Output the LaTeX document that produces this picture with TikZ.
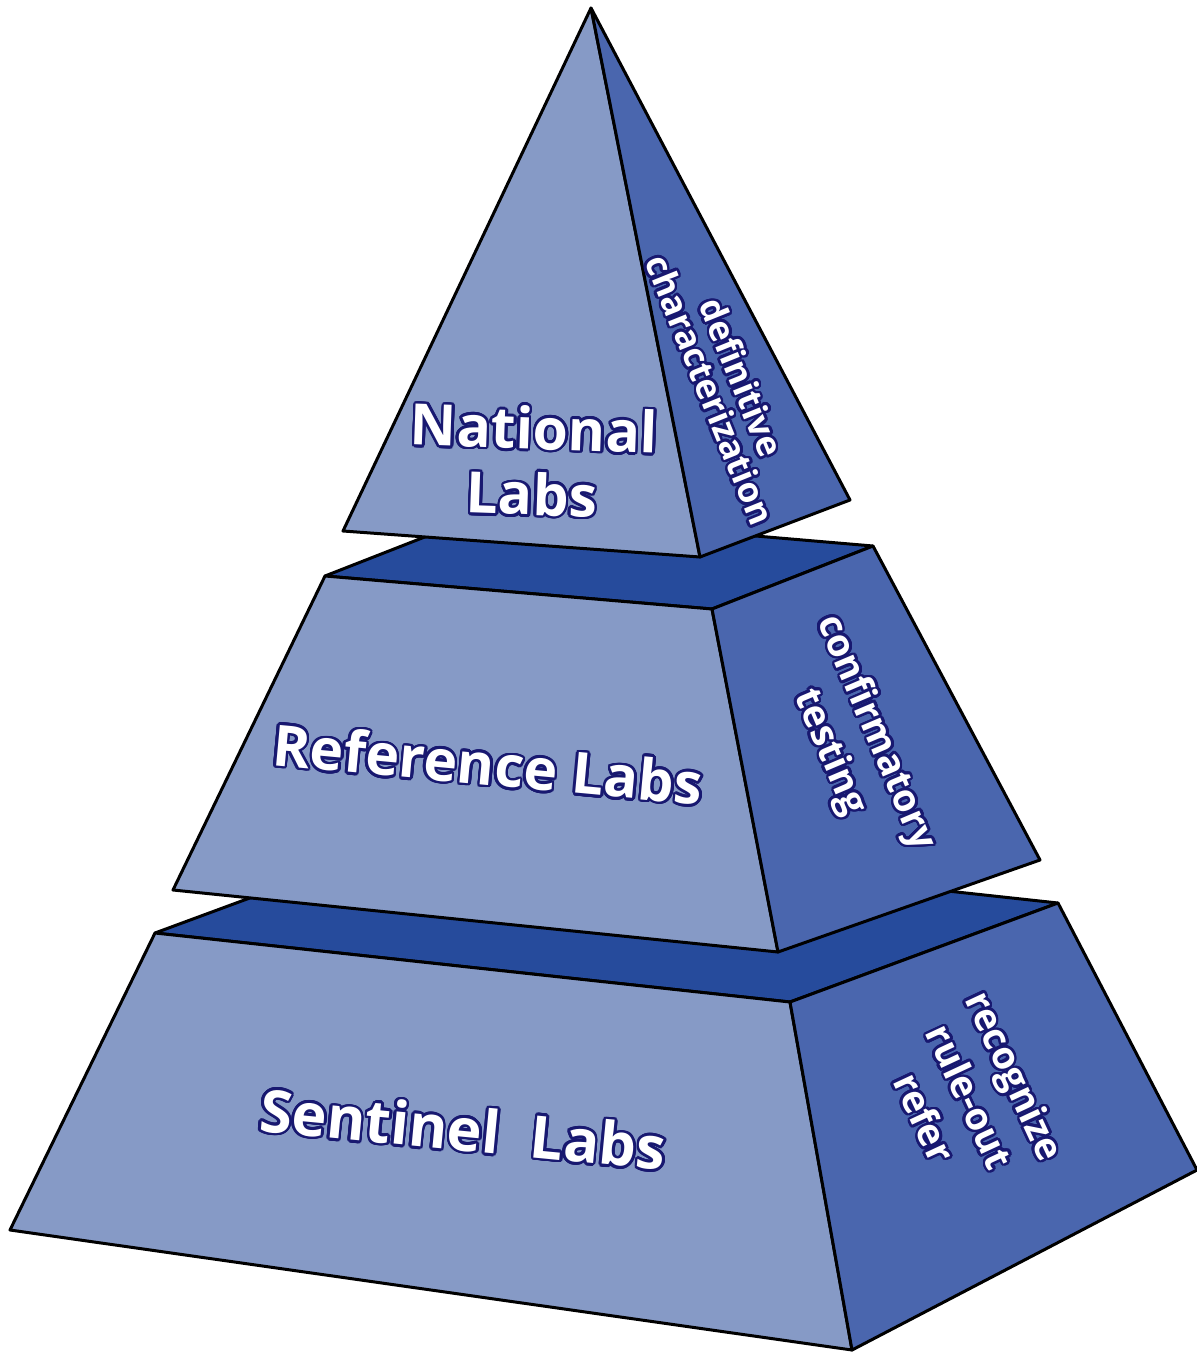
\documentclass[tikz,border=0pt]{standalone}
\usepackage{fontspec}
\usepackage{contour}
\newfontfamily\labfont{Open Sans}
\definecolor{frontc}{RGB}{134,154,198}
\definecolor{sidec}{RGB}{74,102,174}
\definecolor{topc}{RGB}{38,75,156}
\definecolor{outl}{RGB}{24,24,112}
\contourlength{1.3pt}
\contournumber{24}
\newcommand{\olt}[1]{\contour{outl}{#1}}
\tikzset{
  face/.style={draw=black, line width=1.5pt, line join=round},
  frontface/.style={face, fill=frontc},
  sideface/.style={face, fill=sidec},
  topface/.style={face, fill=topc},
  biglabel/.style={text=white, font=\labfont\bfseries\fontsize{28.5}{31}\selectfont, align=center, inner sep=0pt},
  sidelabel/.style={text=white, font=\labfont\bfseries\fontsize{19}{25}\selectfont, align=center, inner sep=0pt}
}
\begin{document}
\begin{tikzpicture}[x=0.5pt,y=-0.5pt]
\useasboundingbox (0,0) rectangle (1197,1352);
% bottom frustum
\coordinate (b1) at (155,933);
\coordinate (b2) at (790,1002);
\coordinate (b3) at (1058,903);
\coordinate (b4) at (423,834);
\coordinate (b5) at (10,1230);
\coordinate (b6) at (852,1350);
\coordinate (b7) at (1197,1170);
\draw[topface] (b1) -- (b2) -- (b3) -- (b4) -- cycle;
\draw[frontface] (b1) -- (b2) -- (b6) -- (b5) -- cycle;
\draw[sideface] (b2) -- (b3) -- (b7) -- (b6) -- cycle;
% middle frustum
\coordinate (m1) at (325,576);
\coordinate (m2) at (712,609);
\coordinate (m3) at (873,546);
\coordinate (m4) at (486,513);
\coordinate (m5) at (173,890);
\coordinate (m6) at (778,952);
\coordinate (m7) at (1040,860);
\draw[topface] (m1) -- (m2) -- (m3) -- (m4) -- cycle;
\draw[frontface] (m1) -- (m2) -- (m6) -- (m5) -- cycle;
\draw[sideface] (m2) -- (m3) -- (m7) -- (m6) -- cycle;
% top pyramid
\coordinate (apex) at (591,8);
\coordinate (t1) at (343,531);
\coordinate (t2) at (700,557);
\coordinate (t3) at (850,500);
\draw[frontface] (apex) -- (t2) -- (t1) -- cycle;
\draw[sideface] (apex) -- (t3) -- (t2) -- cycle;
% labels
\node[biglabel, rotate=-2] (national) at (533,462) {\olt{National}\\[2pt]\olt{Labs}};
\node[sidelabel, rotate=-68, font=\labfont\bfseries\fontsize{17.5}{17}\selectfont] (defin) at (725,384) {\olt{definitive}\\\olt{characterization}};
\node[biglabel, rotate=-5.3] (reference) at (488,765) {\olt{Reference Labs}};
\node[sidelabel, rotate=-67] (confirm) at (851,743) {\olt{confirmatory}\\\olt{testing}};
\node[biglabel, rotate=-5.5, font=\labfont\bfseries\fontsize{29.5}{31}\selectfont] (sentinel) at (463,1130) {\olt{Sentinel\ \ Labs}};
\node[sidelabel, rotate=-65] (recog) at (969,1097) {\olt{recognize}\\\olt{rule-out}\\\olt{refer}};
\end{tikzpicture}
\end{document}
